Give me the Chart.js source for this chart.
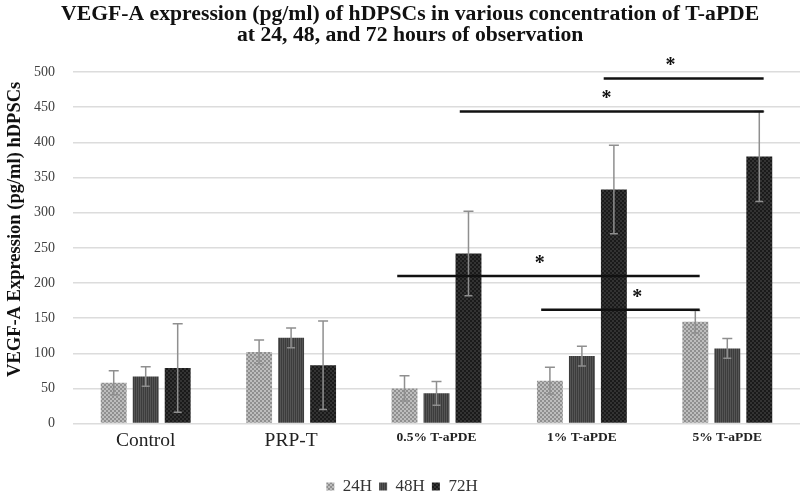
<!DOCTYPE html>
<html>
<head>
<meta charset="utf-8">
<script src="https://cdn.jsdelivr.net/npm/chart.js@4/dist/chart.umd.min.js"></script>
<style>
  html, body { margin: 0; padding: 0; background: #fff; overflow: hidden; }
</style>
</head>
<body>
<canvas id="myChart" width="800" height="495"></canvas>
<script>
const categories = ["Control", "PRP-T", "0.5% T-aPDE", "1% T-aPDE", "5% T-aPDE"];
const seriesNames = ["24H", "48H", "72H"];
const h24 = [58, 102, 50, 61, 145];
const h48 = [67, 122, 43, 96, 107];
const h72 = [79, 83, 242, 333, 380];
const sd24 = [17, 17, 18, 19, 16];
const sd48 = [14, 14, 17, 14, 14];
const sd72 = [63, 63, 60, 63, 64];
const yTicks = [0, 50, 100, 150, 200, 250, 300, 350, 400, 450, 500];

// significance bars: x in category units, y in pg/ml
const sigFrom = [3.15, 2.16, 1.73, 2.72];
const sigTo = [4.25, 4.25, 3.81, 3.81];
const sigY = [491, 444, 210, 162];
const starX = [3.61, 3.17, 2.71, 3.38];
const starY = [514, 467, 233, 185];

const serif = "'Liberation Serif', 'Times New Roman', serif";
const nb = n => "\u00a0".repeat(n); // nudges text off-centre like the original

// little textures like the scanned bars
function makePattern(a, b, kind) {
  const c = document.createElement("canvas");
  c.width = 4; c.height = 4;
  const g = c.getContext("2d");
  g.fillStyle = a; g.fillRect(0, 0, 4, 4);
  g.fillStyle = b;
  if (kind === "stripe") {
    g.fillRect(0, 0, 1, 4); g.fillRect(2, 0, 1, 4);
  } else {
    g.fillRect(0, 0, 2, 2); g.fillRect(2, 2, 2, 2);
  }
  return g.createPattern(c, "repeat");
}
const fill24 = makePattern("#bdbdbd", "#8f8f8f", "check");
const fill48 = makePattern("#3c3c3c", "#555555", "stripe");
const fill72 = makePattern("#1a1a1a", "#333333", "check");

const errorBars = {
  id: "errorBars",
  afterDatasetsDraw(chart) {
    const ctx = chart.ctx;
    const y = chart.scales.y;
    const sds = [sd24, sd48, sd72];
    ctx.save();
    ctx.strokeStyle = "#8f8f8f";
    ctx.lineWidth = 1.5;
    chart.data.datasets.forEach((ds, i) => {
      const meta = chart.getDatasetMeta(i);
      meta.data.forEach((bar, j) => {
        const v = ds.data[j];
        const top = y.getPixelForValue(v + sds[i][j]);
        const bot = y.getPixelForValue(v - sds[i][j]);
        ctx.beginPath();
        ctx.moveTo(bar.x, bot); ctx.lineTo(bar.x, top);
        ctx.moveTo(bar.x - 5, top); ctx.lineTo(bar.x + 5, top);
        ctx.moveTo(bar.x - 4, bot); ctx.lineTo(bar.x + 4, bot);
        ctx.stroke();
      });
    });
    ctx.restore();
  }
};

const sigBars = {
  id: "sigBars",
  afterDraw(chart) {
    const ctx = chart.ctx;
    const x = chart.scales.x, y = chart.scales.y;
    const p0 = x.getPixelForValue(0), p1 = x.getPixelForValue(1);
    const px = v => p0 + (p1 - p0) * v;
    ctx.save();
    ctx.strokeStyle = "#111";
    ctx.lineWidth = 2.5;
    ctx.fillStyle = "#111";
    ctx.font = "bold 20px " + serif;
    ctx.textAlign = "center";
    ctx.textBaseline = "middle";
    for (let i = 0; i < sigY.length; i++) {
      const yy = y.getPixelForValue(sigY[i]);
      ctx.beginPath();
      ctx.moveTo(px(sigFrom[i]), yy);
      ctx.lineTo(px(sigTo[i]), yy);
      ctx.stroke();
      ctx.fillText("*", px(starX[i]), y.getPixelForValue(starY[i]) + 4);
    }
    ctx.restore();
  }
};

new Chart(document.getElementById("myChart"), {
  type: "bar",
  data: {
    labels: categories,
    datasets: [
      { label: seriesNames[0], data: h24, backgroundColor: fill24 },
      { label: seriesNames[1], data: h48, backgroundColor: fill48 },
      { label: seriesNames[2], data: h72, backgroundColor: fill72 },
    ],
  },
  options: {
    responsive: false,
    devicePixelRatio: 1,
    animation: false,
    categoryPercentage: 0.66,
    barPercentage: 0.81,
    layout: { padding: { top: 2, right: 0, left: 4, bottom: -10 } },
    plugins: {
      title: {
        display: true,
        text: [nb(3) + "VEGF-A expression (pg/ml) of hDPSCs in various concentration of T-aPDE",
               nb(3) + "at 24, 48, and 72 hours of observation"],
        color: "#111",
        font: { family: serif, size: 21.7, weight: "bold", lineHeight: 0.97 },
        padding: { top: 2, bottom: 26 },
      },
      legend: {
        position: "bottom",
        labels: {
          boxWidth: 8,
          boxHeight: 8,
          padding: 7,
          color: "#333",
          font: { family: serif, size: 17 },
        },
      },
      tooltip: { enabled: false },
    },
    scales: {
      x: {
        grid: { display: false, drawTicks: false },
        border: { display: false },
        afterFit: axis => { axis.height += 12; },
        ticks: {
          color: "#222",
          padding: 6,
          font: ctx => ctx.index < 2
            ? { family: serif, size: 19.5 }
            : { family: serif, size: 13.5, weight: "bold" },
        },
      },
      y: {
        min: 0,
        max: 500,
        afterBuildTicks: axis => { axis.ticks = yTicks.map(v => ({ value: v })); },
        afterFit: axis => { axis.width = 69; },
        grid: { color: "#dcdcdc", lineWidth: 1.5, drawTicks: false },
        border: { display: false },
        ticks: { color: "#404040", padding: 18, font: { family: serif, size: 14 } },
        title: {
          display: true,
          text: nb(8) + "VEGF-A Expression (pg/ml) hDPSCs",
          color: "#111",
          font: { family: serif, size: 18.5, weight: "bold" },
          padding: { top: 0, bottom: 8 },
        },
      },
    },
  },
  plugins: [errorBars, sigBars],
});
</script>
</body>
</html>
